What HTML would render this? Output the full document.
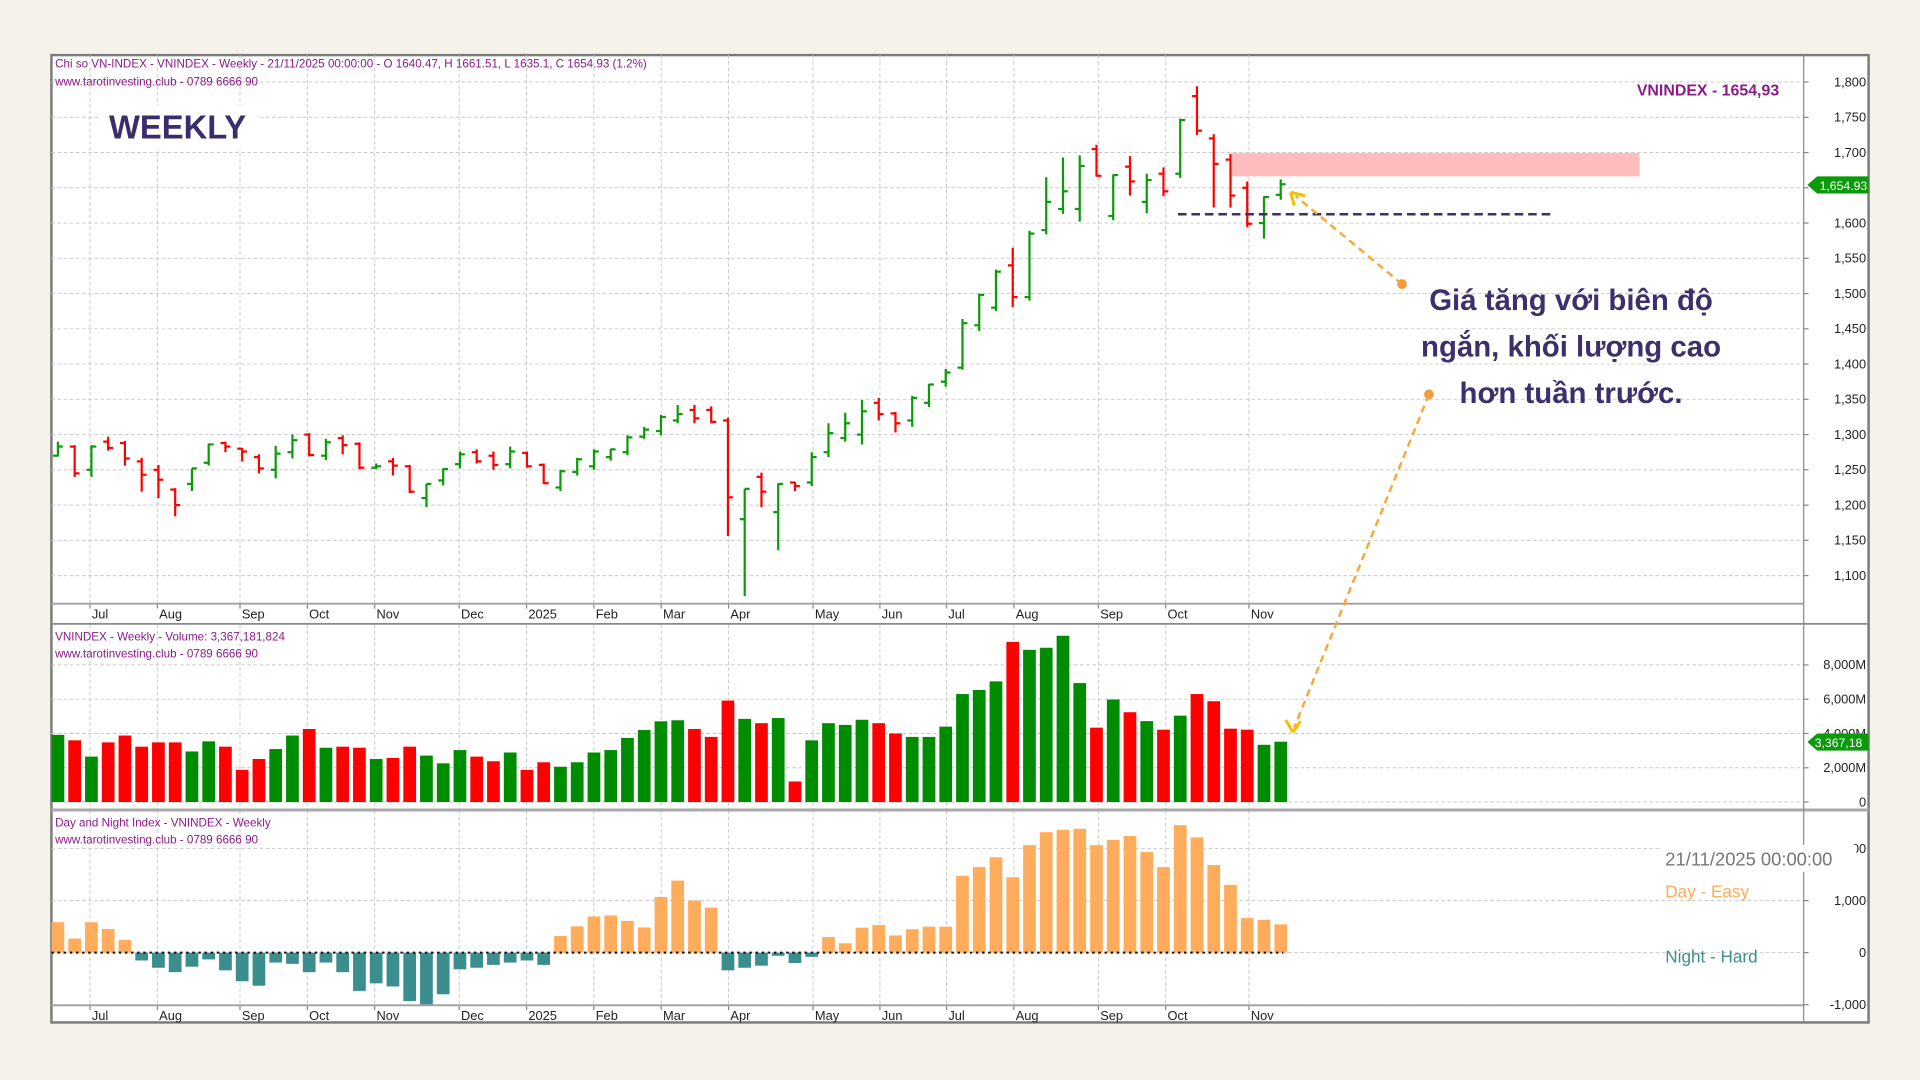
<!DOCTYPE html>
<html><head><meta charset="utf-8"><style>
html,body{margin:0;padding:0;background:#f5f2ea;}
svg{display:block;}
text{font-family:"Liberation Sans","DejaVu Sans",sans-serif;}
</style></head><body>
<svg id="c" width="1920" height="1080" viewBox="0 0 1568 882" preserveAspectRatio="none" xmlns="http://www.w3.org/2000/svg">
<rect x="0" y="0" width="1568" height="882" fill="#f5f2ea"/>
<rect x="42" y="45" width="1484" height="790" fill="#ffffff" stroke="#7a7a7a" stroke-width="2"/>
<g id="grid"></g>
<g id="bars"></g>
<!-- panel separators -->
<line x1="42" y1="493" x2="1473" y2="493" stroke="#a0a0a0" stroke-width="1.5"/>
<line x1="42" y1="509.5" x2="1526" y2="509.5" stroke="#8a8a8a" stroke-width="1.5"/>
<line x1="42" y1="661.5" x2="1526" y2="661.5" stroke="#a8a8a8" stroke-width="2.5"/>
<line x1="42" y1="821" x2="1473" y2="821" stroke="#a0a0a0" stroke-width="1.5"/>
<line x1="1473" y1="45" x2="1473" y2="835" stroke="#8a8a8a" stroke-width="1"/>
<g id="labels" font-size="10.5" fill="#222"></g>
<!-- header texts -->
<g fill="#8b1a8b" font-size="9.5">
<text x="45" y="55">Chi so VN-INDEX - VNINDEX - Weekly - 21/11/2025 00:00:00 -  O 1640.47, H 1661.51, L 1635.1, C 1654.93  (1.2%)</text>
<text x="45" y="70">www.tarotinvesting.club - 0789 6666 90</text>
<text x="45" y="523">VNINDEX - Weekly - Volume: 3,367,181,824</text>
<text x="45" y="537">www.tarotinvesting.club - 0789 6666 90</text>
<text x="45" y="675">Day and Night Index - VNINDEX - Weekly</text>
<text x="45" y="689">www.tarotinvesting.club - 0789 6666 90</text>
</g>
<rect x="80" y="86" width="130" height="36" fill="#fff"/>
<text x="89" y="113" font-size="27" fill="#3b2d6b" font-weight="bold" textLength="112" lengthAdjust="spacingAndGlyphs">WEEKLY</text>
<text x="1453" y="78" font-size="13" fill="#8b1a8b" font-weight="bold" text-anchor="end">VNINDEX - 1654,93</text>
<!-- zone + level -->
<rect x="1006" y="125" width="333" height="19" fill="#ffbcbc"/>
<line x1="962" y1="175" x2="1270" y2="175" stroke="#3d2f6b" stroke-width="2" stroke-dasharray="7,4"/>
<!-- annotation -->
<g font-size="24" font-weight="bold" fill="#3d2f6b" text-anchor="middle" font-family="'Liberation Sans','DejaVu Sans',sans-serif">
<text x="1283" y="253">Giá tăng với biên độ</text>
<text x="1283" y="291">ngắn, khối lượng cao</text>
<text x="1283" y="329">hơn tuần trước.</text>
</g>
<!-- arrows -->
<g stroke="#f7a838" stroke-width="2" stroke-dasharray="6,4" fill="none">
<line x1="1145" y1="232" x2="1058" y2="160"/>
<line x1="1167" y1="322" x2="1057" y2="594"/>
</g>
<circle cx="1145" cy="232" r="4" fill="#f79a40"/>
<circle cx="1167" cy="322" r="4" fill="#f79a40"/>
<path d="M1054,157 L1066,160 M1054,157 L1057,168" stroke="#f5c000" stroke-width="2.5" fill="none"/>
<path d="M1056,598 L1050,588 M1056,598 L1062,589" stroke="#f5c000" stroke-width="2.5" fill="none"/>
<!-- right value boxes -->
<path d="M1476,151 L1484,144 L1526,144 L1526,158 L1484,158 Z" fill="#0a9a0a"/>
<text x="1486" y="155" font-size="10" fill="#fff">1,654.93</text>
<path d="M1476,606 L1484,599 L1526,599 L1526,613 L1484,613 Z" fill="#0a9a0a"/>
<text x="1482" y="610" font-size="10" fill="#fff">3,367,18</text>
<!-- DNI legend -->
<rect x="1356" y="690" width="160" height="22" fill="#fff"/>
<text x="1360" y="707" font-size="15" fill="#777">21/11/2025 00:00:00</text>
<text x="1360" y="733" font-size="14" fill="#ffaa55">Day - Easy</text>
<text x="1360" y="786" font-size="14" fill="#3a8f8f">Night - Hard</text>
</svg>
<script>
(function(){
var NS="http://www.w3.org/2000/svg";
function el(p,t,a,txt){var e=document.createElementNS(NS,t);for(var k in a)e.setAttribute(k,a[k]);if(txt!=null)e.textContent=txt;p.appendChild(e);return e;}
var grid=document.getElementById('grid'),bars=document.getElementById('bars'),lab=document.getElementById('labels');
var gs={stroke:"#c9c9c9","stroke-width":"0.8","stroke-dasharray":"3,2"};
function py(p){return 67+(1800-p)/50*28.79;}
function vy(v){return 655-v/2000*28;}
function dy(v){return 778-v/1000*42.5;}
// vertical grid
var vx=[73.5,128.5,196,251,306,375,430,485,540,595,664,718.6,773,828,897,952,1020];
var mon=["Jul","Aug","Sep","Oct","Nov","Dec","2025","Feb","Mar","Apr","May","Jun","Jul","Aug","Sep","Oct","Nov"];
vx.forEach(function(x,i){
 [[45,493],[510,661],[662,821]].forEach(function(r){el(grid,'line',Object.assign({x1:x,x2:x,y1:r[0],y2:r[1]},gs));});
 el(lab,'text',{x:x+1.5,y:505},mon[i]);
 el(lab,'text',{x:x+1.5,y:833},mon[i]);
 el(grid,'line',{x1:x,x2:x,y1:493,y2:497,stroke:"#888","stroke-width":"1"});
 el(grid,'line',{x1:x,x2:x,y1:821,y2:825,stroke:"#888","stroke-width":"1"});
});
// horizontal grid price
for(var p=1100;p<=1800;p+=50){var y=py(p);el(grid,'line',Object.assign({x1:42,x2:1473,y1:y,y2:y},gs));
 el(lab,'text',{x:1524,y:y+3.5,"text-anchor":"end"},(p/1000|0)+","+String(p%1000).padStart(3,"0"));
 el(grid,'line',{x1:1473,x2:1477,y1:y,y2:y,stroke:"#888"});}
el(grid,'line',Object.assign({x1:42,x2:1473,y1:38+0,y2:38},gs)).setAttribute('display','none');
// volume grid
[[0,"0"],[2000,"2,000M"],[4000,"4,000M"],[6000,"6,000M"],[8000,"8,000M"]].forEach(function(v){var y=vy(v[0]);
 el(grid,'line',Object.assign({x1:42,x2:1473,y1:y,y2:y},gs));el(lab,'text',{x:1524,y:y+3.5,"text-anchor":"end"},v[1]);
 el(grid,'line',{x1:1473,x2:1477,y1:y,y2:y,stroke:"#888"});});
// dni grid
[[2000,"00"],[1000,"1,000"],[0,"0"],[-1000,"-1,000"]].forEach(function(v){var y=dy(v[0]);
 el(grid,'line',Object.assign({x1:42,x2:1473,y1:y,y2:y},gs));el(lab,'text',{x:1524,y:y+3.5,"text-anchor":"end"},v[1]);
 el(grid,'line',{x1:1473,x2:1477,y1:y,y2:y,stroke:"#888"});});
// OHLC [O,H,L,C]
var P=[[1270,1290,1269,1283],[1283,1285,1240,1245],[1250,1285,1240,1283],[1290,1297,1277,1281],[1288,1291,1256,1266],[1262,1267,1219,1243],[1250,1257,1210,1236],[1222,1224,1184,1200],[1230,1252,1220,1252],[1260,1287,1256,1286],
[1288,1290,1275,1283],[1280,1281,1262,1276],[1268,1272,1245,1252],[1250,1284,1238,1273],[1275,1300,1266,1292],[1300,1302,1269,1271],[1270,1294,1264,1289],[1295,1299,1272,1285],[1287,1289,1251,1253],[1253,1259,1251,1255],
[1262,1267,1242,1256],[1255,1257,1217,1219],[1210,1230,1197,1230],[1235,1252,1228,1251],[1258,1276,1252,1272],[1275,1279,1259,1262],[1270,1276,1250,1257],[1258,1283,1252,1276],[1274,1276,1253,1255],[1257,1259,1230,1231],
[1225,1250,1220,1248],[1247,1267,1242,1265],[1255,1279,1250,1276],[1268,1280,1263,1279],[1275,1299,1271,1296],[1297,1311,1294,1307],[1305,1328,1299,1325],[1320,1342,1316,1329],[1335,1342,1316,1323],[1335,1340,1316,1318],
[1320,1324,1156,1211],[1180,1223,1071,1223],[1240,1246,1197,1219],[1190,1231,1136,1230],[1232,1233,1220,1227],[1232,1275,1227,1268],[1275,1316,1268,1302],[1295,1331,1290,1316],[1300,1349,1286,1333],[1345,1352,1320,1329],
[1330,1332,1303,1316],[1320,1355,1311,1352],[1345,1372,1339,1371],[1375,1393,1368,1388],[1395,1464,1392,1458],[1455,1500,1447,1498],[1480,1534,1475,1531],[1540,1565,1481,1495],[1495,1589,1490,1585],[1590,1665,1584,1630],
[1620,1693,1613,1645],[1620,1696,1602,1681],[1705,1711,1666,1667],[1610,1669,1604,1668],[1680,1695,1639,1659],[1630,1670,1614,1661],[1670,1679,1638,1645],[1670,1748,1664,1746],[1780,1794,1725,1731],[1720,1726,1622,1684],
[1690,1698,1622,1639],[1650,1659,1594,1599],[1600,1638,1578,1637],[1640,1662,1633,1655]];
var V=[[3920,1],[3600,0],[2650,1],[3480,0],[3880,0],[3230,0],[3480,0],[3480,0],[2950,1],[3540,1],[3230,0],[1880,0],[2510,0],[3090,1],[3880,1],[4260,0],[3170,1],[3230,0],[3170,0],[2510,1],[2570,0],[3230,0],[2710,1],[2260,1],[3030,1],[2650,0],[2380,0],[2890,1],[1880,0],[2320,0],[2060,1],[2320,1],[2890,1],[3030,1],[3740,1],[4200,1],[4710,1],[4770,1],[4260,0],[3800,0],[5920,0],[4850,1],[4600,0],[4900,1],[1200,0],[3600,1],[4600,1],[4500,1],[4800,1],[4600,0],[4000,0],[3800,1],[3800,1],[4400,1],[6300,1],[6540,1],[7040,1],[9340,0],[8880,1],[9000,1],[9700,1],[6940,1],[4340,0],[5980,1],[5240,0],[4720,1],[4220,0],[5040,1],[6300,0],[5880,0],[4280,0],[4220,0],[3340,1],[3520,1]];
var D=[585,270,585,455,245,-150,-290,-375,-270,-130,-340,-550,-635,-190,-215,-375,-190,-375,-735,-590,-650,-930,-995,-800,-320,-290,-235,-190,-150,-235,320,505,695,715,610,485,1070,1385,1000,865,-340,-290,-250,-60,-200,-80,300,180,480,530,330,450,500,500,1476,1644,1832,1450,2067,2315,2362,2382,2067,2168,2242,1933,1644,2450,2215,1684,1302,664,631,544];
for(var i=0;i<74;i++){
 var x=47.3+13.68*i;
 var o=P[i],up=o[3]>=o[0],col=up?"#0a9a0a":"#ff0000";
 el(bars,'line',{x1:x,x2:x,y1:py(o[1]),y2:py(o[2]),stroke:col,"stroke-width":"1.8"});
 el(bars,'line',{x1:x-4,x2:x,y1:py(o[0]),y2:py(o[0]),stroke:col,"stroke-width":"1.8"});
 el(bars,'line',{x1:x,x2:x+4,y1:py(o[3]),y2:py(o[3]),stroke:col,"stroke-width":"1.8"});
 var v=V[i];var t=vy(v[0]);
 el(bars,'rect',{x:x-5.2,y:t,width:10.4,height:655-t,fill:v[1]?"#008c00":"#ff0000"});
 var d=D[i];var a=dy(d);
 if(d>=0)el(bars,'rect',{x:x-5.2,y:a,width:10.4,height:778-a,fill:"#ffad5c"});
 else el(bars,'rect',{x:x-5.2,y:778,width:10.4,height:a-778,fill:"#3a8e8e"});
}
el(bars,'line',{x1:42,x2:1048,y1:778,y2:778,stroke:"#111","stroke-width":"1.6","stroke-dasharray":"2,3"});
})();
</script>
</body></html>
